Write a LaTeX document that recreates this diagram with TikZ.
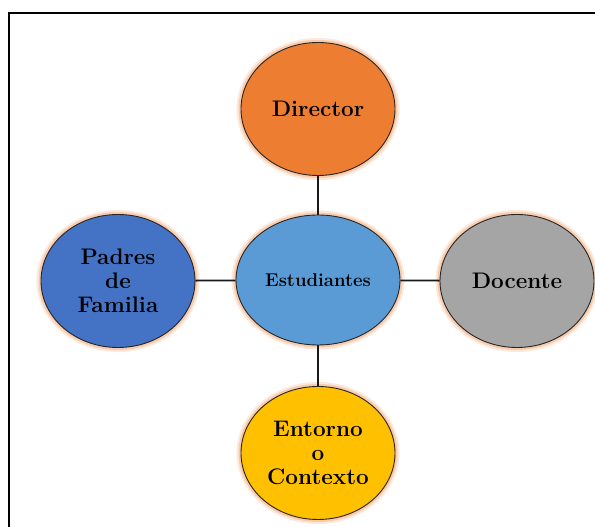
\documentclass[tikz,border=0pt]{standalone}
\usetikzlibrary{shapes.geometric}
\definecolor{cDir}{HTML}{ED7D31}
\definecolor{cEst}{HTML}{5B9BD5}
\definecolor{cPad}{HTML}{4472C4}
\definecolor{cDoc}{HTML}{A5A5A5}
\definecolor{cEnt}{HTML}{FFC000}
\definecolor{glowA}{HTML}{FCE9DC}
\definecolor{glowB}{HTML}{F8CBAD}
\tikzset{
  bubble/.style={ellipse, draw=black!85, line width=0.9pt, inner sep=0pt,
    minimum width=154pt, minimum height=133pt, align=center,
    font=\fontsize{22.5}{24}\selectfont\bfseries,
    preaction={draw=glowA, line width=9pt},
    preaction={draw=glowB, line width=5pt}},
  link/.style={draw=black!90, line width=1.8pt}
}
\begin{document}
\begin{tikzpicture}[x=1pt,y=1pt]
\useasboundingbox (0,0) rectangle (595,527);
\fill[white] (0,0) rectangle (595,527);
\draw[line width=1.6pt, black] (9,0) -- (9,514) -- (595,514);
\node[bubble, fill=cDir] (dir) at (318,418) {Director};
\node[bubble, fill=cEst, minimum width=164pt, minimum height=130pt,
      font=\fontsize{18.5}{22}\selectfont\bfseries] (est) at (318,247) {Estudiantes};
\node[bubble, fill=cPad] (pad) at (118,246) {Padres\\de\\Familia};
\node[bubble, fill=cDoc] (doc) at (517,246) {Docente};
\node[bubble, fill=cEnt] (ent) at (318,74) {Entorno\\o\\Contexto};
\draw[link] (dir) -- (est);
\draw[link] (est) -- (pad);
\draw[link] (est) -- (doc);
\draw[link] (est) -- (ent);
\end{tikzpicture}
\end{document}
